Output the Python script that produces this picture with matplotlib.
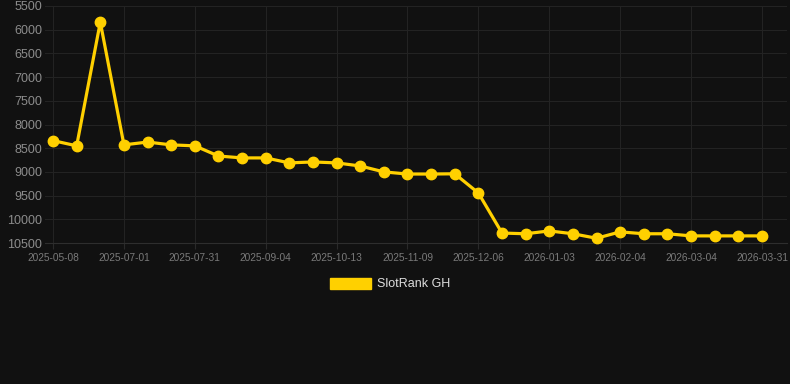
"""SlotRank GH rank history, dark theme line chart."""

import matplotlib

matplotlib.use("Agg")
import matplotlib.pyplot as plt
from matplotlib.patches import Patch

# rank values, one per snapshot (equally spaced on a category axis)
ranks = [
    8340, 8450, 5840, 8430, 8370, 8430, 8450, 8665, 8705, 8705,
    8810, 8790, 8810, 8875, 9000, 9045, 9045, 9040, 9445, 10290,
    10305, 10245, 10305, 10400, 10265, 10305, 10305, 10350, 10350, 10350,
    10350,
]
# labels shown on every third snapshot
tick_labels = [
    "2025-05-08", "2025-07-01", "2025-07-31", "2025-09-04", "2025-10-13",
    "2025-11-09", "2025-12-06", "2026-01-03", "2026-02-04", "2026-03-04",
    "2026-03-31",
]
y_ticks = [5500, 6000, 6500, 7000, 7500, 8000, 8500, 9000, 9500, 10000, 10500]
series_name = "SlotRank GH"

BG = "#111111"
GRID = "#232323"
LINE = "#FFD000"

plt.rcParams["font.family"] = ["Liberation Sans", "DejaVu Sans"]

fig = plt.figure(figsize=(7.9, 3.84), dpi=100, facecolor=BG)
ax = fig.add_axes([45 / 790, 1 - 243 / 384, 742 / 790, 237 / 384])
ax.set_facecolor(BG)

xs = list(range(len(ranks)))
ax.plot(xs, ranks, color=LINE, linewidth=2.3, marker="o", markersize=7.5,
        zorder=3, clip_on=False)

ax.set_ylim(10500, 5500)
ax.set_xlim(-0.34, 31.06)
ax.set_yticks(y_ticks)
ax.set_xticks(xs[::3])
ax.set_xticklabels(tick_labels)

ax.grid(True, color=GRID, linewidth=0.8)
for side in ("top", "right", "left"):
    ax.spines[side].set_visible(False)
ax.spines["bottom"].set_color("#2e2e2e")

ax.tick_params(axis="y", length=0, pad=2, labelsize=9, labelcolor="#8c8c8c")
ax.tick_params(axis="x", length=4, color="#2a2a2a", pad=3, labelsize=7.3,
               labelcolor="#7a7a7a")

handle = Patch(facecolor=LINE, edgecolor=LINE)
leg = fig.legend([handle], [series_name], loc="center",
                 bbox_to_anchor=(0.494, 1 - 284 / 384), frameon=False,
                 fontsize=9, handlelength=3.3, handleheight=1.0,
                 handletextpad=0.5)
for t in leg.get_texts():
    t.set_color("#dddddd")

fig.savefig("out.png", dpi=100, facecolor=BG)
plt.close(fig)
